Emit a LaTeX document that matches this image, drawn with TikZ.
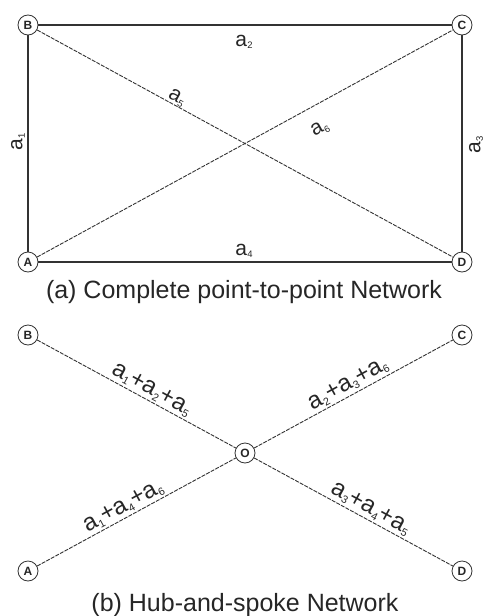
\documentclass[tikz,border=0pt]{standalone}
\usepackage{fontspec}
\usepackage{graphicx}
\setmainfont{Liberation Sans}
\newcommand\asub[1]{a\kern0.02em\raisebox{-0.12em}{\scalebox{0.45}{#1}}}
\begin{document}
\begin{tikzpicture}[x=1pt,y=-1pt,
  ink/.style={draw=black!80},
  pt/.style={circle,ink,line width=0.8pt,fill=white,minimum size=20pt,inner sep=0pt,
     font=\fontsize{12}{13}\selectfont\bfseries,text=black!85},
  solidedge/.style={ink,line width=1.1pt},
  dashedge/.style={ink,line width=0.9pt,dash pattern=on 4pt off 1.2pt},
  lbl/.style={font=\fontsize{21}{23}\selectfont,text=black!85,inner sep=0pt},
  slbl/.style={font=\fontsize{24}{26}\selectfont,text=black!85,inner sep=0pt},
  captext/.style={font=\fontsize{25}{28}\selectfont,text=black!85,anchor=base,inner sep=0pt}]
\useasboundingbox (0,0) rectangle (486,616);
% (a)
\node[pt] (B1) at (28,25) {B};
\node[pt] (C1) at (462,25) {C};
\node[pt] (A1) at (28,262) {A};
\node[pt] (D1) at (462,262) {D};
\draw[solidedge] (B1) -- (C1);
\draw[solidedge] (B1) -- (A1);
\draw[solidedge] (C1) -- (D1);
\draw[solidedge] (A1) -- (D1);
\draw[dashedge] (B1) -- (D1);
\draw[dashedge] (A1) -- (C1);
\node[lbl] (la2) at (244,42) {\asub{2}};
\node[lbl] (la4) at (244,251) {\asub{4}};
\node[lbl,rotate=90] (la1) at (18,142) {\asub{1}};
\node[lbl,rotate=90] (la3) at (476,145) {\asub{3}};
\node[lbl,rotate=-28.6] (la5) at (177,98) {\asub{5}};
\node[lbl,rotate=28.6] (la6) at (320,129) {\asub{6}};
\node[captext] (capa) at (244,298) {(a) Complete point-to-point Network};
% (b)
\node[pt] (B2) at (28,335) {B};
\node[pt] (C2) at (462,335) {C};
\node[pt] (O) at (245,453) {O};
\node[pt] (A2) at (28,571) {A};
\node[pt] (D2) at (462,571) {D};
\draw[dashedge] (B2) -- (O) node[slbl,pos=0.55,sloped,above=2pt] {\asub{1}+\asub{2}+\asub{5}};
\draw[dashedge] (O) -- (C2) node[slbl,pos=0.5,sloped,above=2pt] {\asub{2}+\asub{3}+\asub{6}};
\draw[dashedge] (A2) -- (O) node[slbl,pos=0.46,sloped,above=2pt] {\asub{1}+\asub{4}+\asub{6}};
\draw[dashedge] (O) -- (D2) node[slbl,pos=0.56,sloped,above=2pt] {\asub{3}+\asub{4}+\asub{5}};
\node[captext] (capb) at (245,611) {(b) Hub-and-spoke Network};
\end{tikzpicture}
\end{document}
